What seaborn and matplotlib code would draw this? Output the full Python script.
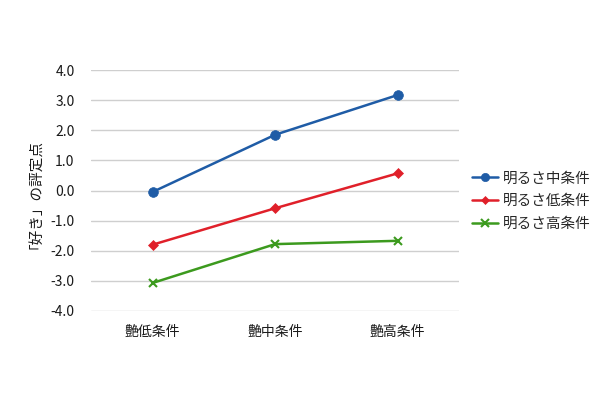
import pandas as pd
import matplotlib.pyplot as plt
import seaborn as sns

categories = ["艶低条件", "艶中条件", "艶高条件"]
series_names = ["明るさ中条件", "明るさ低条件", "明るさ高条件"]
mid_vals = [-0.05, 1.85, 3.17]
low_vals = [-1.80, -0.59, 0.57]
high_vals = [-3.07, -1.78, -1.67]

rows = []
for name, vals in zip(series_names, [mid_vals, low_vals, high_vals]):
    for i, v in enumerate(vals):
        rows.append({"cond": categories[i], "x": i, "series": name, "score": v})
df = pd.DataFrame(rows)

sns.set_theme(style="white")
plt.rcParams['font.family'] = ['Noto Sans CJK JP', 'DejaVu Sans']

fig = plt.figure(figsize=(6, 4), dpi=100)
ax = fig.add_axes([0.152, 0.2225, 0.613, 0.6025])

palette = {"明るさ中条件": "#1f5ca6", "明るさ低条件": "#e0202a", "明るさ高条件": "#3c9a1e"}
markers = {"明るさ中条件": "o", "明るさ低条件": "D", "明るさ高条件": "x"}
sizes = {"明るさ中条件": 7, "明るさ低条件": 5, "明るさ高条件": 6}

for name in series_names:
    sub = df[df["series"] == name]
    sns.lineplot(data=sub, x="x", y="score", ax=ax, color=palette[name],
                 marker=markers[name], markersize=sizes[name], linewidth=1.8,
                 markeredgewidth=1.5 if name == "明るさ高条件" else 0.5,
                 markeredgecolor=palette[name], label=name)

ax.set_xlim(-0.5, 2.5)
ax.set_ylim(-4, 4)
ax.set_yticks([-4, -3, -2, -1, 0, 1, 2, 3, 4])
ax.set_yticklabels([f"{v:.1f}" for v in range(-4, 5)])
ax.set_xticks(range(len(categories)))
ax.set_xticklabels(categories)
ax.yaxis.grid(True, color="#cfcfcf", linewidth=1)
ax.set_axisbelow(True)
for s in ax.spines.values():
    s.set_visible(False)
ax.tick_params(axis="both", labelsize=10, colors="#1a1a1a", length=0, pad=12)
ax.tick_params(axis="x", pad=10)
ax.set_xlabel("")
ax.set_ylabel("「好き」の評定点", fontsize=10.5, color="#1a1a1a", labelpad=10)

ax.legend(loc="center left", bbox_to_anchor=(1.0, 0.455), frameon=False,
          fontsize=10.5, handlelength=1.8, handletextpad=0.3, labelspacing=0.6,
          markerscale=0.85)

fig.savefig("out.png", dpi=100)
